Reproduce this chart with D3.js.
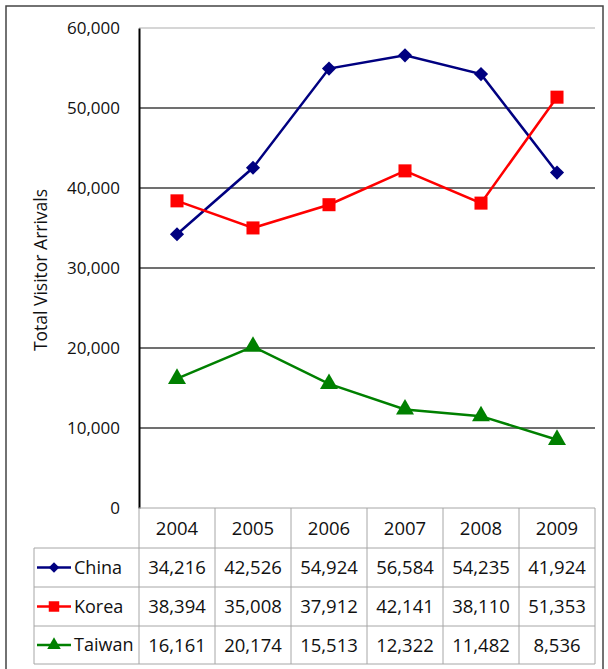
<!DOCTYPE html>
<html><head><meta charset="utf-8">
<script src="https://cdn.jsdelivr.net/npm/d3@7"></script>
<style>body{margin:0;background:#fff}svg{display:block}</style>
</head><body>
<script>
const years = ["2004","2005","2006","2007","2008","2009"];
const seriesNames = ["China","Korea","Taiwan"];
const china = [34216,42526,54924,56584,54235,41924];
const korea = [38394,35008,37912,42141,38110,51353];
const taiwan = [16161,20174,15513,12322,11482,8536];
const yTicks = [0,10000,20000,30000,40000,50000,60000];
const colors = ["#000080","#FF0000","#008000"];
const symbols = ["diamond","square","triangle"];

const series = seriesNames.map((n,i)=>({name:n, values:[china,korea,taiwan][i], color:colors[i], sym:symbols[i]}));

const W=608,H=669;
const svg=d3.select("body").append("svg").attr("width",W).attr("height",H);
const FONT="'Open Sans', sans-serif";

function marker(sel, sym, big){
  if(sym==="diamond") sel.attr("d",d3.symbol().type(d3.symbolSquare).size(big?100:55)).attr("data-rot",45);
  else if(sym==="square") sel.attr("d",d3.symbol().type(d3.symbolSquare).size(big?170:110));
  else sel.attr("d",d3.symbol().type(d3.symbolTriangle).size(big?140:80));
}

svg.append("rect").attr("x",6).attr("y",6).attr("width",597).attr("height",680)
  .attr("fill","#fff").attr("stroke","#444").attr("stroke-width",1.5);

const plotL=139, plotR=595, plotT=28, plotB=508;
const x=d3.scaleBand().domain(years).range([plotL,plotR]);
const y=d3.scaleLinear().domain([0,60000]).range([plotB,plotT]);

svg.append("g").selectAll("line").data(yTicks.filter(t=>t>0)).join("line")
  .attr("x1",plotL).attr("x2",plotR).attr("y1",d=>y(d)).attr("y2",d=>y(d))
  .attr("stroke",d=>d===60000?"#c8c8c8":"#404040").attr("stroke-width",1.3);

const yAxis=d3.axisLeft(y).tickValues(yTicks).tickSize(0).tickPadding(19).tickFormat(d3.format(","));
const ga=svg.append("g").attr("transform",`translate(${plotL},0)`).call(yAxis);
ga.select(".domain").attr("stroke","#000").attr("stroke-width",2);
ga.selectAll("text").attr("font-family",FONT).attr("font-size",17).attr("fill","#111");

svg.append("text").attr("transform","translate(47,270) rotate(-90)")
  .attr("text-anchor","middle").attr("font-family",FONT).attr("font-size",17.5).attr("fill","#111")
  .text("Total Visitor Arrivals");

const cx=i=>x(years[i])+x.bandwidth()/2;
const line=d3.line().x((d,i)=>cx(i)).y(d=>y(d));
series.forEach(s=>{
  svg.append("path").datum(s.values).attr("d",line).attr("fill","none")
    .attr("stroke",s.color).attr("stroke-width",2.5);
  svg.append("g").selectAll("path").data(s.values).join("path")
    .each(function(d,i){
      const p=d3.select(this); marker(p,s.sym,true);
      p.attr("transform",`translate(${cx(i)},${y(d)})`+(s.sym==="diamond"?" rotate(45)":""));
    })
    .attr("fill",s.color);
});

const rowEdges=[508,548,587,626,664];
const tableL=34;
const g=svg.append("g");
const gridC="#a6a6a6";
g.append("line").attr("x1",plotL).attr("x2",plotR).attr("y1",rowEdges[0]).attr("y2",rowEdges[0]).attr("stroke",gridC);
for(let r=1;r<rowEdges.length;r++){
  g.append("line").attr("x1",tableL).attr("x2",plotR).attr("y1",rowEdges[r]).attr("y2",rowEdges[r]).attr("stroke",gridC);
}
g.append("line").attr("x1",tableL).attr("x2",tableL).attr("y1",rowEdges[1]).attr("y2",rowEdges[4]).attr("stroke",gridC);
years.forEach(yr=>{
  g.append("line").attr("x1",x(yr)+x.bandwidth()).attr("x2",x(yr)+x.bandwidth()).attr("y1",rowEdges[0]).attr("y2",rowEdges[4]).attr("stroke",gridC);
});
g.append("line").attr("x1",plotL).attr("x2",plotL).attr("y1",rowEdges[0]).attr("y2",rowEdges[4]).attr("stroke",gridC);
g.selectAll("text.yr").data(years).join("text")
  .attr("x",d=>x(d)+x.bandwidth()/2).attr("y",(rowEdges[0]+rowEdges[1])/2)
  .attr("dy","0.36em").attr("text-anchor","middle").attr("font-family",FONT).attr("font-size",18.5).attr("fill","#111")
  .text(d=>d);
series.forEach((s,r)=>{
  const cy=(rowEdges[r+1]+rowEdges[r+2])/2;
  g.append("line").attr("x1",37).attr("x2",71).attr("y1",cy).attr("y2",cy).attr("stroke",s.color).attr("stroke-width",2.5);
  const p=g.append("path"); marker(p,s.sym,false);
  p.attr("transform",`translate(54,${cy})`+(s.sym==="diamond"?" rotate(45)":"")).attr("fill",s.color);
  g.append("text").attr("x",74).attr("y",cy).attr("dy","0.36em").attr("font-family",FONT).attr("font-size",18).attr("fill","#111").text(s.name);
  g.selectAll(null).data(s.values).join("text")
    .attr("x",(d,i)=>cx(i)).attr("y",cy).attr("dy","0.36em")
    .attr("text-anchor","middle").attr("font-family",FONT).attr("font-size",18.5).attr("fill","#111")
    .text(d=>d3.format(",")(d));
});
</script>
</body></html>
